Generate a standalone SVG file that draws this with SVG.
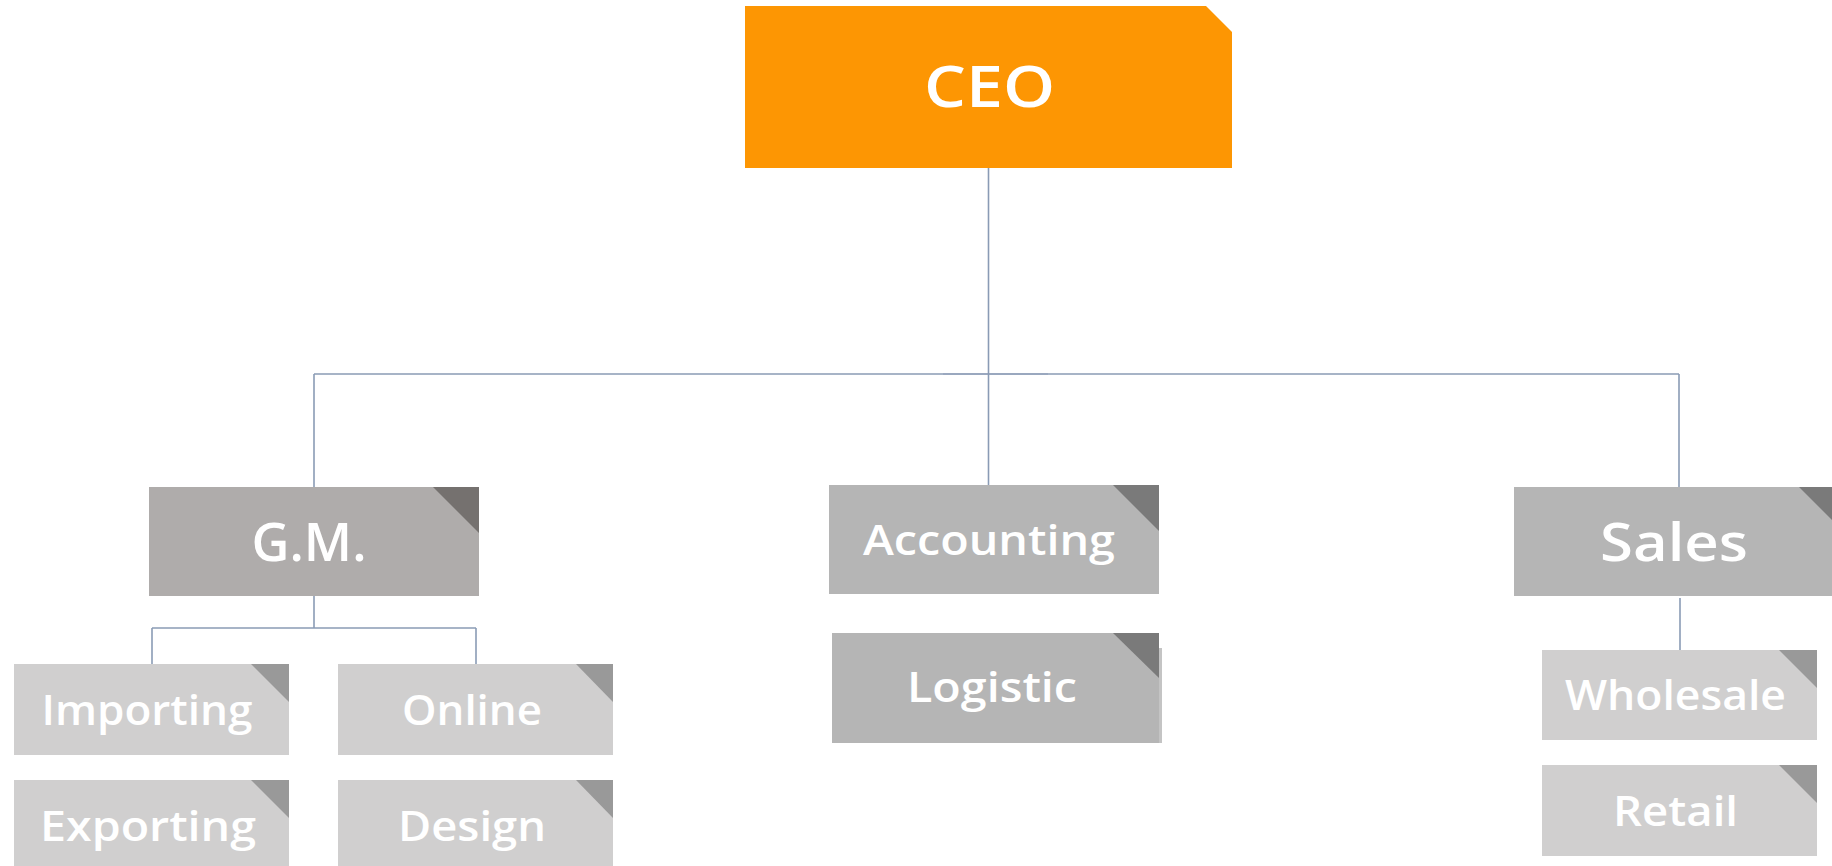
<svg xmlns="http://www.w3.org/2000/svg" width="1832" height="866" viewBox="0 0 1832 866">
  <style>
    .lbl { font-family: "Open Sans", "Liberation Sans", sans-serif; font-weight: 600; fill: #ffffff; text-anchor: middle; }
    .big { font-size: 58px; }
    .mid { font-size: 52px; }
    .sm { font-size: 42px; }
    .conn { stroke: #8A9BB5; stroke-width: 1.6; fill: none; }
    .gm { fill: #AFACAB; }
    .gmc { fill: #75716F; }
    .l2 { fill: #B5B5B5; }
    .l2c { fill: #7A7A7A; }
    .l3 { fill: #D0CFCF; }
    .l3c { fill: #999999; }
  </style>
  <rect width="1832" height="866" fill="#ffffff"/>

  <g id="connectors">
    <line class="conn" x1="988.5" y1="168" x2="988.5" y2="374"/>
    <line class="conn" x1="314" y1="374" x2="1679" y2="374"/>
    <line class="conn" x1="943" y1="374" x2="1048" y2="374" stroke-opacity="0.6"/>
    <line class="conn" x1="314" y1="374" x2="314" y2="487"/>
    <line class="conn" x1="988.5" y1="374" x2="988.5" y2="485"/>
    <line class="conn" x1="1679" y1="374" x2="1679" y2="487"/>
    <line class="conn" x1="314" y1="596" x2="314" y2="628"/>
    <line class="conn" x1="152" y1="628" x2="476" y2="628"/>
    <line class="conn" x1="152" y1="628" x2="152" y2="664"/>
    <line class="conn" x1="476" y1="628" x2="476" y2="664"/>
    <line class="conn" x1="1680" y1="598" x2="1680" y2="650"/>
  </g>

  <g id="ceo">
    <path d="M745 6 H1206 L1232 32 V168 H745 Z" fill="#FD9603"/>
    <text class="lbl big" x="989.5" y="107" textLength="131" lengthAdjust="spacingAndGlyphs">CEO</text>
  </g>

  <g id="gm">
    <rect class="gm" x="149" y="487" width="330" height="109"/>
    <path class="gmc" d="M433 487 H479 V533 Z"/>
    <text class="lbl mid" x="309" y="561" textLength="115" lengthAdjust="spacingAndGlyphs">G.M.</text>
  </g>

  <g id="accounting">
    <rect class="l2" x="829" y="485" width="330" height="109"/>
    <path class="l2c" d="M1113 485 H1159 V531 Z"/>
    <text class="lbl sm" x="989" y="555" textLength="252" lengthAdjust="spacingAndGlyphs">Accounting</text>
  </g>

  <g id="logistic">
    <rect class="l2" x="1158" y="648" width="4" height="95" fill-opacity="0.8"/>
    <rect class="l2" x="832" y="633" width="327" height="110"/>
    <path class="l2c" d="M1113 633 H1159 V678 Z"/>
    <text class="lbl sm" x="992" y="702" textLength="170" lengthAdjust="spacingAndGlyphs">Logistic</text>
  </g>

  <g id="sales">
    <rect class="l2" x="1514" y="487" width="330" height="109"/>
    <path class="l2c" d="M1799 487 H1845 V533 Z"/>
    <text class="lbl mid" x="1674" y="561" textLength="148" lengthAdjust="spacingAndGlyphs">Sales</text>
  </g>

  <g id="importing">
    <rect class="l3" x="14" y="664" width="275" height="91"/>
    <path class="l3c" d="M251 664 H289 V702 Z"/>
    <text class="lbl sm" x="147" y="725" textLength="211" lengthAdjust="spacingAndGlyphs">Importing</text>
  </g>

  <g id="exporting">
    <rect class="l3" x="14" y="780" width="275" height="91"/>
    <path class="l3c" d="M251 780 H289 V818 Z"/>
    <text class="lbl sm" x="148" y="841" textLength="216" lengthAdjust="spacingAndGlyphs">Exporting</text>
  </g>

  <g id="online">
    <rect class="l3" x="338" y="664" width="275" height="91"/>
    <path class="l3c" d="M576 664 H613 V702 Z"/>
    <text class="lbl sm" x="472" y="725" textLength="140" lengthAdjust="spacingAndGlyphs">Online</text>
  </g>

  <g id="design">
    <rect class="l3" x="338" y="780" width="275" height="91"/>
    <path class="l3c" d="M576 780 H613 V818 Z"/>
    <text class="lbl sm" x="472" y="841" textLength="148" lengthAdjust="spacingAndGlyphs">Design</text>
  </g>

  <g id="wholesale">
    <rect class="l3" x="1542" y="650" width="275" height="90"/>
    <path class="l3c" d="M1779 650 H1817 V688 Z"/>
    <text class="lbl sm" x="1675.5" y="710" textLength="221" lengthAdjust="spacingAndGlyphs">Wholesale</text>
  </g>

  <g id="retail">
    <rect class="l3" x="1542" y="765" width="275" height="91"/>
    <path class="l3c" d="M1779 765 H1817 V803 Z"/>
    <text class="lbl sm" x="1675.5" y="826" textLength="125" lengthAdjust="spacingAndGlyphs">Retail</text>
  </g>
</svg>
